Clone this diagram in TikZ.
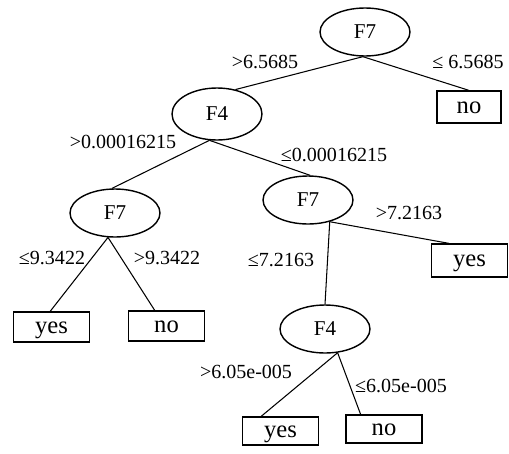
\documentclass[tikz,border=0pt]{standalone}
\usepackage{fontspec}
\setmainfont{Liberation Serif}
\usetikzlibrary{shapes.geometric}
\begin{document}
\begin{tikzpicture}[x=0.02cm,y=-0.02cm,
    test/.style={draw,ellipse,line width=.8pt,minimum width=1.8cm,minimum height=.96cm,inner sep=0pt,font=\fontsize{12}{14}\selectfont},
    leaf/.style={draw,rectangle,line width=.7pt,minimum width=1.52cm,minimum height=.6cm,inner sep=0pt,text height=1.6ex,text depth=.1ex,font=\fontsize{14}{16}\selectfont},
    cond/.style={inner sep=0pt,font=\fontsize{11.4}{13}\selectfont},
    branch/.style={line width=.6pt}]
    \useasboundingbox (0,0) rectangle (509,453);
    % Tests
    \node[test] (f7root) at (365,32) {F7};
    \node[test,minimum height=1.04cm] (f4top) at (217,114) {F4};
    \node[test] (f7left) at (115,213) {F7};
    \node[test] (f7right) at (308,200) {F7};
    \node[test] (f4low) at (325,329) {F4};
    % Leaves
    \node[leaf,minimum width=1.28cm,minimum height=.64cm] (noA) at (469,107) {no};
    \node[leaf] (yesA) at (51.5,327) {yes};
    \node[leaf] (noB) at (166.5,326) {no};
    \node[leaf,minimum height=.66cm] (yesB) at (469.5,260.5) {yes};
    \node[leaf,minimum height=.56cm] (yesC) at (280.5,431) {yes};
    \node[leaf,minimum height=.56cm] (noC) at (384,429) {no};
    % Branches
    \draw[branch] (f7root.-95) -- (f4top.53);
    \draw[branch] (f7root.-95) -- (noA.north);
    \draw[branch] (f4top.-106) -- (f7left.97);
    \draw[branch] (f4top.-106) -- (f7right.85);
    \draw[branch] (f7left.-106) -- (yesA.95);
    \draw[branch] (f7left.-106) -- (noB.127);
    \draw[branch] (f7right.-45) -- (yesB.140);
    \draw[branch] (f7right.-45) -- (f4low.north);
    \draw[branch] (f4low.-62) -- (yesC.143);
    \draw[branch] (f4low.-62) -- (noC.148);
    % Conditions
    \foreach \name/\x/\y/\txt in {gtA/265/62/>6.5685, leA/468/62/≤ 6.5685,
        gtB/123/142/>0.00016215, leB/334/155/≤0.00016215,
        leC/52/258/≤9.3422, gtC/167/258/>9.3422,
        gtD/409/213/>7.2163, leD/281/260/≤7.2163,
        gtE/246/372/>6.05e-005, leE/401/386/≤6.05e-005}
        \node[cond] (\name) at (\x,\y) {\txt};
\end{tikzpicture}
\end{document}
